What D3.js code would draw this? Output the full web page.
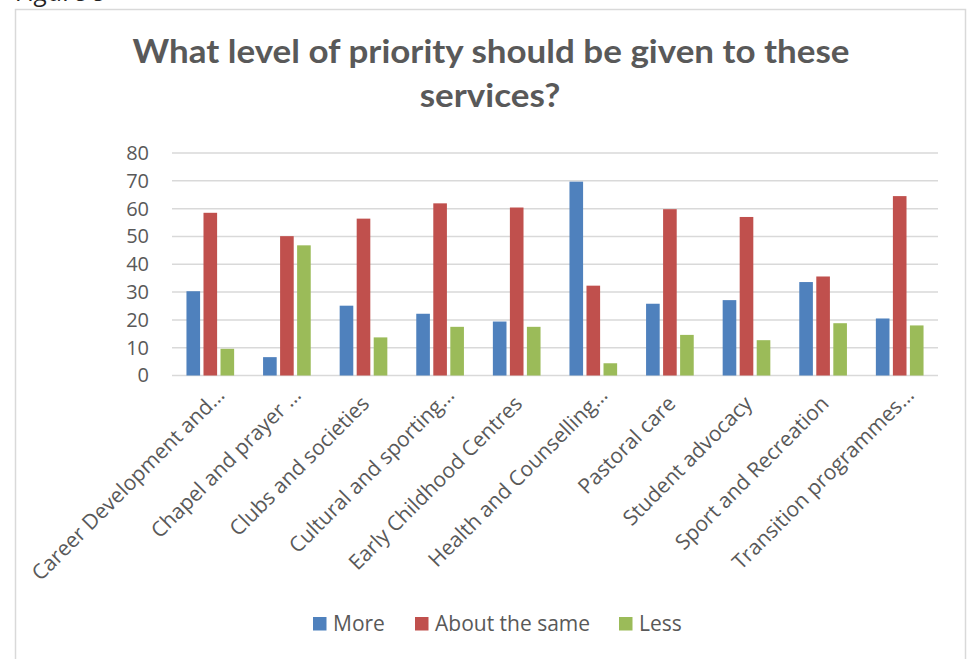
<!DOCTYPE html>
<html>
<head>
<meta charset="utf-8">
<script src="https://cdn.jsdelivr.net/npm/d3@7"></script>
<style>
  html, body { margin: 0; padding: 0; background: #fff; }
  svg { display: block; }
</style>
</head>
<body>
<svg id="chart" width="970" height="659"></svg>
<script>
// Survey responses (%) per university service
const categories = [
  "Career Development and…",
  "Chapel and prayer …",
  "Clubs and societies",
  "Cultural and sporting…",
  "Early Childhood Centres",
  "Health and Counselling…",
  "Pastoral care",
  "Student advocacy",
  "Sport and Recreation",
  "Transition programmes…"
];
const seriesNames = ["More", "About the same", "Less"];
const more         = [30.3, 6.6, 25.1, 22.2, 19.4, 69.7, 25.8, 27.1, 33.6, 20.5];
const aboutTheSame = [58.5, 50.1, 56.4, 61.9, 60.4, 32.3, 59.8, 57.0, 35.6, 64.5];
const less         = [9.6, 46.8, 13.7, 17.5, 17.5, 4.4, 14.6, 12.7, 18.8, 18.0];
const yTicks = [0, 10, 20, 30, 40, 50, 60, 70, 80];
const titleLines = ["What level of priority should be given to these", "services?"];
const captionText = "Figure 9";

const seriesValues = [more, aboutTheSame, less];
const colors = ["#4F81BD", "#C0504D", "#9BBB59"];
const textColor = "#595959";
const gridColor = "#D9D9D9";

const svg = d3.select("#chart");

// caption above the chart frame (partly cut off by the top edge)
svg.append("text")
  .attr("x", 16).attr("y", 1)
  .attr("font-family", "Open Sans, sans-serif")
  .attr("font-style", "italic")
  .attr("font-size", 26)
  .attr("fill", "#222")
  .text(captionText);

// chart frame
svg.append("rect")
  .attr("x", 15.5).attr("y", 9.5)
  .attr("width", 950).attr("height", 700)
  .attr("fill", "#fff")
  .attr("stroke", gridColor)
  .attr("stroke-width", 1.5);

// title, squeezed to the narrow width of the original typeface
const titleG = svg.append("g")
  .attr("font-family", "Lato, sans-serif")
  .attr("font-weight", "bold")
  .attr("font-size", 32)
  .attr("fill", textColor)
  .attr("text-anchor", "middle");
const t1 = titleG.append("text").attr("x", 491).attr("y", 63).text(titleLines[0]);
const t2 = titleG.append("text").attr("x", 490).attr("y", 107).text(titleLines[1]);
const ratio = 717 / t1.node().getComputedTextLength();
t1.attr("textLength", 717).attr("lengthAdjust", "spacingAndGlyphs");
t2.attr("textLength", t2.node().getComputedTextLength() * ratio).attr("lengthAdjust", "spacingAndGlyphs");

// scales
const plotLeft = 172, plotRight = 938, plotTop = 153, plotBottom = 375.5;
const x = d3.scaleBand()
  .domain(categories)
  .range([plotLeft, plotRight])
  .paddingInner(1 / 3)
  .paddingOuter(1 / 6);
const xSeries = d3.scaleBand()
  .domain(d3.range(seriesNames.length))
  .range([0, x.bandwidth()]);
const y = d3.scaleLinear().domain([0, 80]).range([plotBottom, plotTop]);

// gridlines
svg.append("g")
  .selectAll("line")
  .data(yTicks)
  .join("line")
  .attr("x1", plotLeft).attr("x2", plotRight)
  .attr("y1", d => y(d)).attr("y2", d => y(d))
  .attr("stroke", gridColor)
  .attr("stroke-width", 1.5);

// y axis labels
const yAxis = d3.axisLeft(y).tickValues(yTicks).tickSize(0).tickPadding(0);
const yG = svg.append("g").attr("transform", "translate(149,0)").call(yAxis);
yG.select(".domain").remove();
yG.selectAll("text")
  .attr("font-family", "Open Sans, sans-serif")
  .attr("font-size", 20)
  .attr("fill", textColor);

// bars
const inset = 1.7;
const groups = svg.append("g")
  .selectAll("g")
  .data(categories)
  .join("g")
  .attr("transform", d => `translate(${x(d)},0)`);
groups.selectAll("rect")
  .data((d, i) => seriesValues.map((vals, s) => ({ s, v: vals[i] })))
  .join("rect")
  .attr("x", d => xSeries(d.s) + inset)
  .attr("width", xSeries.bandwidth() - 2 * inset)
  .attr("y", d => y(d.v))
  .attr("height", d => y(0) - y(d.v))
  .attr("fill", d => colors[d.s]);

// rotated category labels
svg.append("g")
  .selectAll("text")
  .data(categories)
  .join("text")
  .attr("transform", d => `translate(${x(d) + x.bandwidth() / 2 + 7},405) rotate(-45)`)
  .attr("dx", d => d.endsWith("…") ? 12 : 0)
  .attr("text-anchor", "end")
  .attr("font-family", "Open Sans, sans-serif")
  .attr("font-size", 21)
  .attr("fill", textColor)
  .text(d => d);

// legend
const legendX = [313, 415, 619];
const legend = svg.append("g")
  .selectAll("g")
  .data(seriesNames)
  .join("g")
  .attr("transform", (d, i) => `translate(${legendX[i]},617)`);
legend.append("rect")
  .attr("width", 13.5).attr("height", 13.5)
  .attr("fill", (d, i) => colors[i]);
legend.append("text")
  .attr("x", 20).attr("y", 14)
  .attr("font-family", "Open Sans, sans-serif")
  .attr("font-size", 21)
  .attr("fill", textColor)
  .text(d => d);
</script>
</body>
</html>
